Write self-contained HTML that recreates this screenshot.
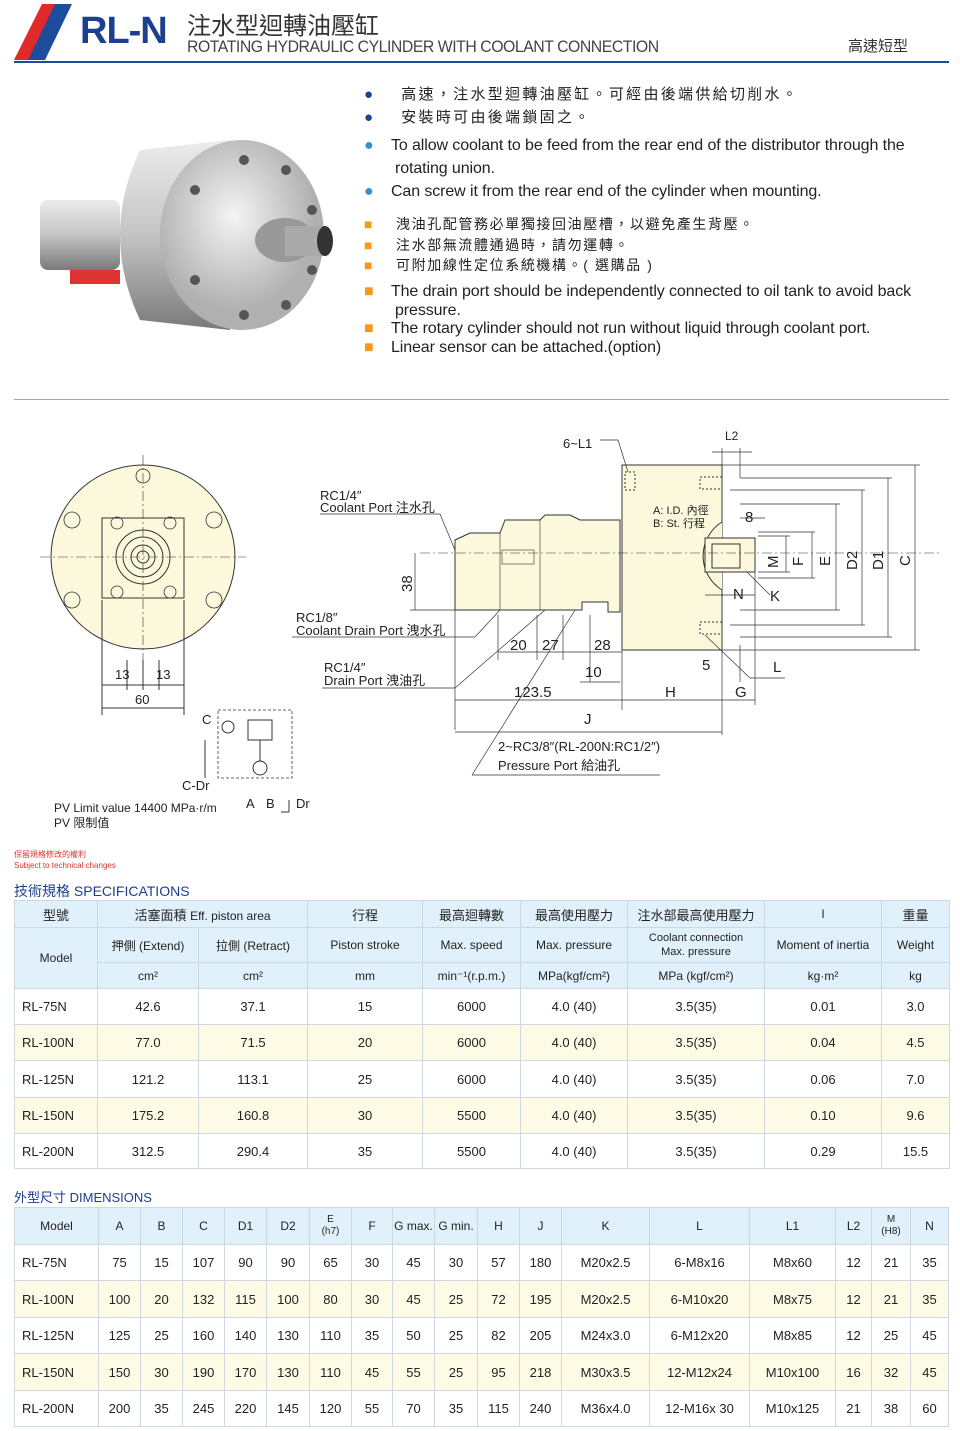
<!DOCTYPE html>
<html><head><meta charset="utf-8"><style>
*{margin:0;padding:0;box-sizing:border-box}
body{width:960px;height:1431px;background:#fff;position:relative;font-family:"Liberation Sans","Noto Sans CJK TC",sans-serif;color:#222;overflow:hidden}
.a{position:absolute;white-space:nowrap}
table{position:absolute;border-collapse:collapse;table-layout:fixed;font-size:13px}
td{border:1px solid #cfd8e0;text-align:center;vertical-align:middle;padding:0}
.h td{background:#e0f1fb;font-size:12px}
tr.y td{background:#fdfbe6}
td.l{text-align:left;padding-left:7px}
.bl{color:#1d3f8f}
</style></head><body>
<svg class="a" style="left:0;top:0" width="960" height="70">
<polygon points="14,60 30,60 57,4 42,4" fill="#e02a2a"/>
<polygon points="28,60 45,60 72,4 55,4" fill="#1d4c9c"/>
<rect x="14" y="61" width="935" height="2" fill="#1d4c9c"/>
</svg>
<div class="a" style="left:80px;top:10px;font-size:38px;font-weight:bold;color:#1d3f8f;letter-spacing:-1px">RL-N</div>
<div class="a" style="left:187px;top:6px;font-size:24px;color:#333">注水型迴轉油壓缸</div>
<div class="a" style="left:187px;top:37px;font-size:17px;color:#444;letter-spacing:-0.5px;transform:scaleX(0.93);transform-origin:left">ROTATING HYDRAULIC CYLINDER WITH COOLANT CONNECTION</div>
<div class="a" style="left:848px;top:35px;font-size:15px;color:#333">高速短型</div>

<svg class="a" style="left:30px;top:130px" width="310" height="210">
<defs><linearGradient id="g" x1="0" x2="0" y1="0" y2="1"><stop offset="0" stop-color="#ececec"/><stop offset=".5" stop-color="#c4c4c4"/><stop offset="1" stop-color="#7a7a7a"/></linearGradient>
<radialGradient id="f" cx=".45" cy=".4"><stop offset="0" stop-color="#f4f4f4"/><stop offset="1" stop-color="#b0b0b0"/></radialGradient></defs>
<rect x="10" y="70" width="80" height="70" rx="8" fill="url(#g)"/>
<rect x="40" y="140" width="50" height="14" fill="#d33"/>
<path d="M110 20 L200 10 L200 200 L110 190 Q70 105 110 20Z" fill="url(#g)"/>
<ellipse cx="212" cy="105" rx="82" ry="95" fill="url(#f)"/>
<g fill="#555"><circle cx="214" cy="30" r="5"/><circle cx="256" cy="40" r="5"/><circle cx="282" cy="80" r="5"/><circle cx="282" cy="140" r="5"/><circle cx="256" cy="175" r="5"/><circle cx="214" cy="185" r="5"/><circle cx="165" cy="60" r="5"/><circle cx="165" cy="150" r="5"/></g>
<ellipse cx="255" cy="110" rx="30" ry="22" fill="#999"/>
<rect x="255" y="96" width="40" height="30" fill="#aaa"/>
<ellipse cx="295" cy="111" rx="8" ry="15" fill="#333"/>
</svg>

<div class="a" style="left:364px;top:83px;font-size:15px;line-height:23px;letter-spacing:2.3px">
<div><span style="color:#1d3f8f">●</span>&nbsp;&nbsp;&nbsp;&nbsp;高速，注水型迴轉油壓缸。可經由後端供給切削水。</div>
<div><span style="color:#1d3f8f">●</span>&nbsp;&nbsp;&nbsp;&nbsp;安裝時可由後端鎖固之。</div>
</div>
<div class="a" style="left:364px;top:134px;font-size:16px;line-height:23px;letter-spacing:-0.1px">
<div><span style="color:#3a8fd0">●</span>&nbsp;&nbsp;&nbsp;&nbsp;To allow coolant to be feed from the rear end of the distributor through the</div>
<div style="padding-left:31px">rotating union.</div>
<div><span style="color:#3a8fd0">●</span>&nbsp;&nbsp;&nbsp;&nbsp;Can screw it from the rear end of the cylinder when mounting.</div>
</div>
<div class="a" style="left:364px;top:214px;font-size:14px;line-height:20.5px;letter-spacing:1.6px">
<div><span style="color:#f39a1a">■</span>&nbsp;&nbsp;&nbsp;&nbsp;洩油孔配管務必單獨接回油壓槽，以避免產生背壓。</div>
<div><span style="color:#f39a1a">■</span>&nbsp;&nbsp;&nbsp;&nbsp;注水部無流體通過時，請勿運轉。</div>
<div><span style="color:#f39a1a">■</span>&nbsp;&nbsp;&nbsp;&nbsp;可附加線性定位系統機構。( 選購品 )</div>
</div>
<div class="a" style="left:364px;top:283px;font-size:16px;line-height:18.5px;letter-spacing:-0.1px">
<div><span style="color:#f39a1a">■</span>&nbsp;&nbsp;&nbsp;&nbsp;The drain port should be independently connected to oil tank to avoid back</div>
<div style="padding-left:31px">pressure.</div>
<div><span style="color:#f39a1a">■</span>&nbsp;&nbsp;&nbsp;&nbsp;The rotary cylinder should not run without liquid through coolant port.</div>
<div><span style="color:#f39a1a">■</span>&nbsp;&nbsp;&nbsp;&nbsp;Linear sensor can be attached.(option)</div>
</div>
<div class="a" style="left:14px;top:399px;width:935px;height:1px;background:#8fa6cc"></div>

<svg class="a" style="left:0;top:420px" width="960" height="400" font-family="Liberation Sans, Noto Sans CJK TC, sans-serif" font-size="13" fill="none" stroke="#333" stroke-width="1">
<circle cx="143" cy="137" r="92" fill="#fcf8dc"/>
<rect x="102" y="98" width="82" height="80" fill="#fcf8dc"/>
<circle cx="143" cy="137" r="27"/><circle cx="143" cy="137" r="20"/><circle cx="143" cy="137" r="12"/><circle cx="143" cy="137" r="6"/>
<g stroke-width=".8"><circle cx="72" cy="100" r="8"/><circle cx="214" cy="100" r="8"/><circle cx="72" cy="180" r="8"/><circle cx="214" cy="180" r="8"/><circle cx="143" cy="56" r="7"/><circle cx="117" cy="103" r="6"/><circle cx="170" cy="103" r="6"/><circle cx="117" cy="172" r="6"/><circle cx="170" cy="172" r="6"/></g>
<line x1="40" y1="137" x2="246" y2="137" stroke-dasharray="10 3 2 3" stroke-width=".6"/>
<line x1="143" y1="35" x2="143" y2="240" stroke-dasharray="10 3 2 3" stroke-width=".6"/>
<line x1="102" y1="180" x2="102" y2="295"/><line x1="184" y1="180" x2="184" y2="295"/><line x1="127" y1="240" x2="127" y2="270"/><line x1="159" y1="240" x2="159" y2="270"/><line x1="143" y1="240" x2="143" y2="270"/>
<line x1="102" y1="265" x2="184" y2="265"/><line x1="102" y1="288" x2="184" y2="288"/>
<g fill="#222" stroke="none"><text x="115" y="259">13</text><text x="156" y="259">13</text><text x="135" y="284">60</text>
<text x="202" y="304">C</text><text x="182" y="370">C-Dr</text><text x="246" y="388">A</text><text x="266" y="388">B</text><text x="296" y="388">Dr</text></g>
<rect x="218" y="290" width="74" height="68" stroke-dasharray="3 2" stroke-width=".8"/>
<circle cx="228" cy="307" r="6"/><circle cx="260" cy="348" r="7"/><rect x="248" y="300" width="24" height="20"/>
<line x1="260" y1="320" x2="260" y2="341"/><line x1="205" y1="320" x2="205" y2="358"/><line x1="289" y1="380" x2="289" y2="392"/><line x1="289" y1="392" x2="281" y2="392"/>
<rect x="622" y="45" width="100" height="185" fill="#fcf8dc"/>
<path d="M455 120 L470 113 L500 113 L505 100 L540 100 L545 95 L570 95 L580 100 L620 100 L620 192 L608 192 L608 182 L582 182 L582 190 L455 190 Z" fill="#fcf8dc"/>
<line x1="540" y1="100" x2="540" y2="190" stroke-width=".6"/><line x1="500" y1="113" x2="500" y2="190" stroke-width=".6"/>
<rect x="502" y="130" width="32" height="14" stroke-width=".6"/>
<path d="M722 102 A40 40 0 0 0 722 170" fill="#fcf8dc"/>
<rect x="705" y="118" width="50" height="34" fill="#fcf8dc"/><rect x="712" y="124" width="28" height="24"/>
<rect x="625" y="52" width="10" height="18" stroke-dasharray="2 2"/><rect x="700" y="57" width="22" height="12" stroke-dasharray="2 2"/>
<rect x="700" y="202" width="22" height="12" stroke-dasharray="2 2"/>
<line x1="420" y1="133" x2="940" y2="133" stroke-dasharray="10 3 2 3" stroke-width=".6"/>
<g stroke-width=".7">
<line x1="455" y1="190" x2="455" y2="310"/><line x1="622" y1="230" x2="622" y2="290"/><line x1="722" y1="230" x2="722" y2="315"/><line x1="755" y1="150" x2="755" y2="285"/><line x1="740" y1="225" x2="740" y2="262"/>
<line x1="455" y1="280" x2="622" y2="280"/><line x1="622" y1="280" x2="755" y2="280"/><line x1="455" y1="312" x2="722" y2="312"/>
<line x1="498" y1="232" x2="622" y2="232"/><line x1="498" y1="195" x2="498" y2="240"/><line x1="537" y1="195" x2="537" y2="240"/><line x1="563" y1="195" x2="563" y2="240"/><line x1="590" y1="195" x2="590" y2="262"/><line x1="580" y1="262" x2="620" y2="262"/>
<line x1="415" y1="133" x2="415" y2="190"/><line x1="410" y1="190" x2="455" y2="190"/>
<line x1="722" y1="45" x2="920" y2="45"/><line x1="722" y1="230" x2="920" y2="230"/><line x1="915" y1="45" x2="915" y2="230"/>
<line x1="740" y1="58" x2="892" y2="58"/><line x1="740" y1="217" x2="892" y2="217"/><line x1="888" y1="58" x2="888" y2="217"/>
<line x1="730" y1="70" x2="865" y2="70"/><line x1="730" y1="205" x2="865" y2="205"/><line x1="862" y1="70" x2="862" y2="205"/>
<line x1="740" y1="84" x2="840" y2="84"/><line x1="740" y1="190" x2="840" y2="190"/><line x1="836" y1="84" x2="836" y2="190"/>
<line x1="758" y1="112" x2="815" y2="112"/><line x1="758" y1="158" x2="815" y2="158"/><line x1="812" y1="112" x2="812" y2="158"/>
<line x1="758" y1="116" x2="790" y2="116"/><line x1="758" y1="152" x2="790" y2="152"/><line x1="786" y1="116" x2="786" y2="152"/>
<line x1="722" y1="28" x2="722" y2="45"/><line x1="740" y1="28" x2="740" y2="58"/><line x1="712" y1="32" x2="752" y2="32"/>
<line x1="740" y1="98" x2="765" y2="98"/><line x1="705" y1="175" x2="755" y2="175"/>
<line x1="600" y1="20" x2="618" y2="20"/><line x1="618" y1="20" x2="628" y2="52"/>
<line x1="320" y1="94" x2="440" y2="94"/><line x1="440" y1="94" x2="455" y2="130"/>
<line x1="292" y1="217" x2="475" y2="217"/><line x1="475" y1="217" x2="500" y2="190"/>
<line x1="322" y1="268" x2="455" y2="268"/><line x1="455" y1="268" x2="545" y2="190"/>
<line x1="472" y1="355" x2="660" y2="355"/><line x1="472" y1="355" x2="575" y2="190"/>
<line x1="705" y1="215" x2="750" y2="258"/><line x1="750" y1="258" x2="785" y2="258"/>
<line x1="747" y1="152" x2="770" y2="175"/>
</g>
<g fill="#222" stroke="none">
<text x="563" y="28">6~L1</text><text x="725" y="20" font-size="12">L2</text>
<text x="320" y="80">RC1/4″</text><text x="320" y="92">Coolant Port  注水孔</text>
<text x="296" y="202">RC1/8″</text><text x="296" y="215">Coolant Drain Port  洩水孔</text>
<text x="324" y="252">RC1/4″</text><text x="324" y="265">Drain Port  洩油孔</text>
<text x="498" y="331">2~RC3/8″(RL-200N:RC1/2″)</text><text x="498" y="350">Pressure Port   給油孔</text>
<text x="653" y="94" font-size="11">A: I.D. 內徑</text><text x="653" y="107" font-size="11">B: St.  行程</text>
<g font-size="15"><text x="510" y="230">20</text><text x="542" y="230">27</text><text x="594" y="230">28</text><text x="585" y="257">10</text><text x="702" y="250">5</text><text x="514" y="277">123.5</text><text x="665" y="277">H</text><text x="735" y="277">G</text><text x="584" y="304">J</text>
<text x="745" y="102">8</text><text x="733" y="179">N</text><text x="770" y="181">K</text><text x="773" y="252">L</text>
<text transform="translate(412 172) rotate(-90)">38</text>
<text transform="translate(778 148) rotate(-90)">M</text><text transform="translate(803 146) rotate(-90)">F</text><text transform="translate(830 146) rotate(-90)">E</text><text transform="translate(857 150) rotate(-90)">D2</text><text transform="translate(883 150) rotate(-90)">D1</text><text transform="translate(910 146) rotate(-90)">C</text></g>
</g>
</svg>
<div class="a" style="left:54px;top:801px;font-size:12px;line-height:15px">PV Limit value 14400 MPa·r/m<br>PV 限制值</div>
<div class="a" style="left:14px;top:849px;font-size:8px;color:#d33;line-height:11px">保留規格修改的權利<br>Subject to technical changes</div>

<div class="a bl" style="left:14px;top:881px;font-size:14px">技術規格 SPECIFICATIONS</div>
<table style="left:14px;top:900px;width:935px">
<colgroup><col style="width:83px"><col style="width:101px"><col style="width:109px"><col style="width:115px"><col style="width:98px"><col style="width:107px"><col style="width:137px"><col style="width:117px"><col style="width:68px"></colgroup>
<tr class="h" style="height:27px"><td style="font-size:13px">型號</td><td colspan="2" style="font-size:13px">活塞面積 <span style="font-size:12px">Eff. piston area</span></td><td style="font-size:13px">行程</td><td style="font-size:13px">最高迴轉數</td><td style="font-size:13px">最高使用壓力</td><td style="font-size:13px">注水部最高使用壓力</td><td>I</td><td style="font-size:13px">重量</td></tr>
<tr class="h" style="height:35px"><td rowspan="2">Model</td><td>押側 (Extend)</td><td>拉側 (Retract)</td><td>Piston stroke</td><td>Max. speed</td><td>Max. pressure</td><td style="font-size:11px;line-height:14px">Coolant connection<br>Max. pressure</td><td>Moment of inertia</td><td>Weight</td></tr>
<tr class="h" style="height:26px"><td>cm²</td><td>cm²</td><td>mm</td><td>min⁻¹(r.p.m.)</td><td>MPa(kgf/cm²)</td><td>MPa (kgf/cm²)</td><td>kg·m²</td><td>kg</td></tr>
<tr style="height:36px"><td class="l">RL-75N</td><td>42.6</td><td>37.1</td><td>15</td><td>6000</td><td>4.0 (40)</td><td>3.5(35)</td><td>0.01</td><td>3.0</td></tr>
<tr class="y" style="height:36px"><td class="l">RL-100N</td><td>77.0</td><td>71.5</td><td>20</td><td>6000</td><td>4.0 (40)</td><td>3.5(35)</td><td>0.04</td><td>4.5</td></tr>
<tr style="height:37px"><td class="l">RL-125N</td><td>121.2</td><td>113.1</td><td>25</td><td>6000</td><td>4.0 (40)</td><td>3.5(35)</td><td>0.06</td><td>7.0</td></tr>
<tr class="y" style="height:36px"><td class="l">RL-150N</td><td>175.2</td><td>160.8</td><td>30</td><td>5500</td><td>4.0 (40)</td><td>3.5(35)</td><td>0.10</td><td>9.6</td></tr>
<tr style="height:35px"><td class="l">RL-200N</td><td>312.5</td><td>290.4</td><td>35</td><td>5500</td><td>4.0 (40)</td><td>3.5(35)</td><td>0.29</td><td>15.5</td></tr>
</table>

<div class="a bl" style="left:14px;top:1187px;font-size:13px">外型尺寸 DIMENSIONS</div>
<table style="left:14px;top:1207px;width:934px">
<colgroup><col style="width:84px"><col style="width:42px"><col style="width:42px"><col style="width:42px"><col style="width:42px"><col style="width:43px"><col style="width:42px"><col style="width:41px"><col style="width:42px"><col style="width:43px"><col style="width:42px"><col style="width:42px"><col style="width:88px"><col style="width:100px"><col style="width:86px"><col style="width:36px"><col style="width:39px"><col style="width:38px"></colgroup>
<tr class="h" style="height:37px"><td>Model</td><td>A</td><td>B</td><td>C</td><td>D1</td><td>D2</td><td style="font-size:10px;line-height:12px">E<br>(h7)</td><td>F</td><td>G max.</td><td>G min.</td><td>H</td><td>J</td><td>K</td><td>L</td><td>L1</td><td>L2</td><td style="font-size:10px;line-height:12px">M<br>(H8)</td><td>N</td></tr>
<tr style="height:36px"><td class="l">RL-75N</td><td>75</td><td>15</td><td>107</td><td>90</td><td>90</td><td>65</td><td>30</td><td>45</td><td>30</td><td>57</td><td>180</td><td>M20x2.5</td><td>6-M8x16</td><td>M8x60</td><td>12</td><td>21</td><td>35</td></tr>
<tr class="y" style="height:37px"><td class="l">RL-100N</td><td>100</td><td>20</td><td>132</td><td>115</td><td>100</td><td>80</td><td>30</td><td>45</td><td>25</td><td>72</td><td>195</td><td>M20x2.5</td><td>6-M10x20</td><td>M8x75</td><td>12</td><td>21</td><td>35</td></tr>
<tr style="height:36px"><td class="l">RL-125N</td><td>125</td><td>25</td><td>160</td><td>140</td><td>130</td><td>110</td><td>35</td><td>50</td><td>25</td><td>82</td><td>205</td><td>M24x3.0</td><td>6-M12x20</td><td>M8x85</td><td>12</td><td>25</td><td>45</td></tr>
<tr class="y" style="height:37px"><td class="l">RL-150N</td><td>150</td><td>30</td><td>190</td><td>170</td><td>130</td><td>110</td><td>45</td><td>55</td><td>25</td><td>95</td><td>218</td><td>M30x3.5</td><td>12-M12x24</td><td>M10x100</td><td>16</td><td>32</td><td>45</td></tr>
<tr style="height:36px"><td class="l">RL-200N</td><td>200</td><td>35</td><td>245</td><td>220</td><td>145</td><td>120</td><td>55</td><td>70</td><td>35</td><td>115</td><td>240</td><td>M36x4.0</td><td>12-M16x 30</td><td>M10x125</td><td>21</td><td>38</td><td>60</td></tr>
</table>
</body></html>
